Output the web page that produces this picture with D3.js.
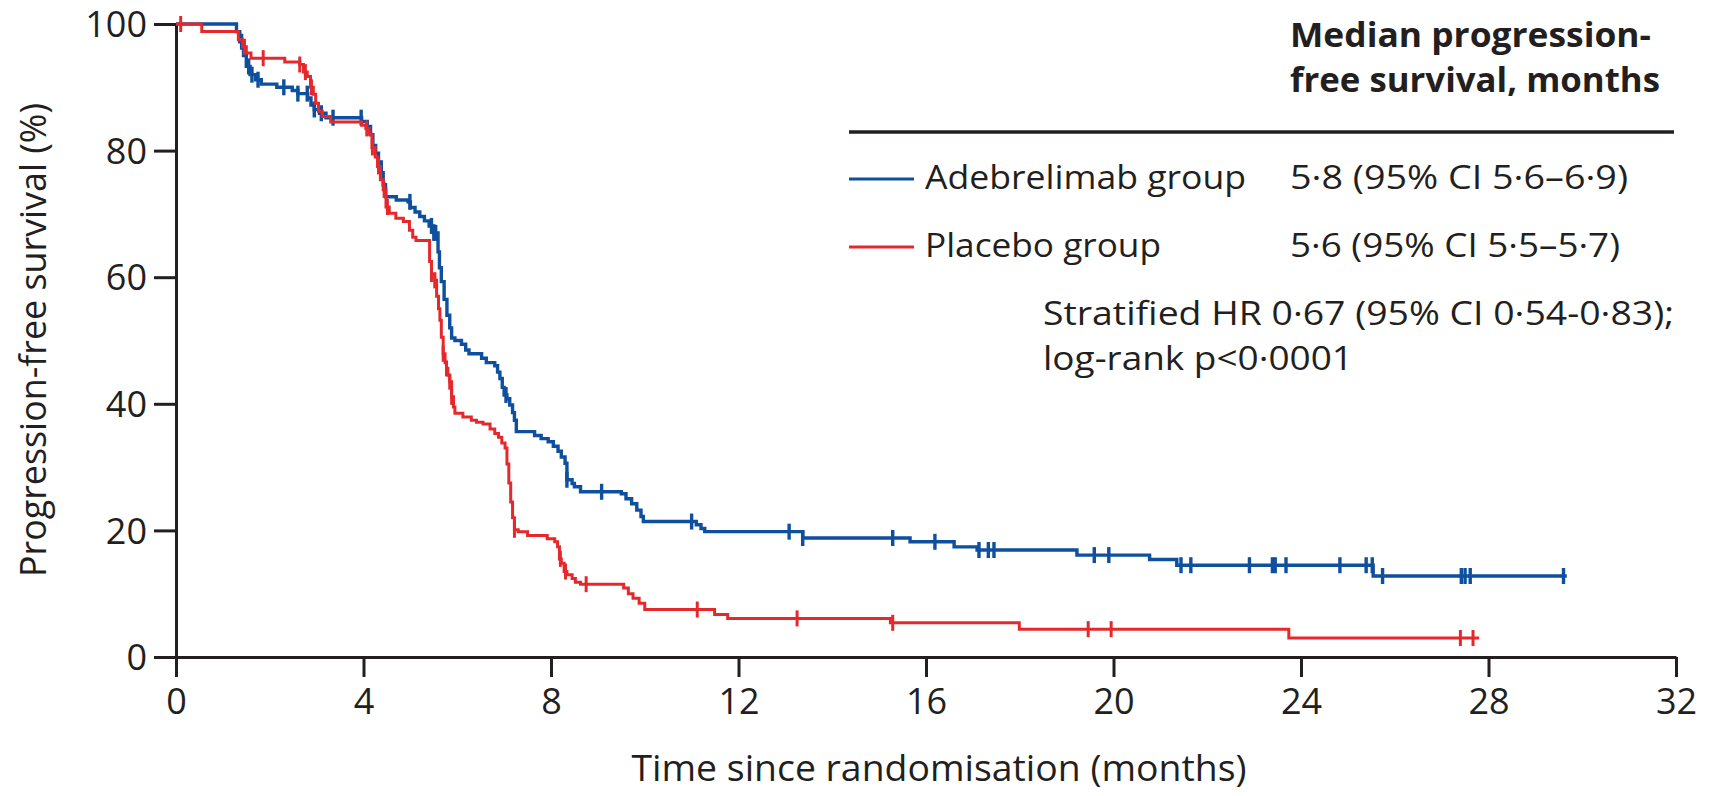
<!DOCTYPE html>
<html>
<head>
<meta charset="utf-8">
<script src="https://cdn.jsdelivr.net/npm/d3@7"></script>
<style>
  html, body { margin: 0; padding: 0; background: #fff; }
  svg text { font-family: "Open Sans", "Noto Sans", sans-serif; fill: #231f20; }
</style>
</head>
<body>
<div id="chart"></div>
<script>
// Axes
const xTicks = [0, 4, 8, 12, 16, 20, 24, 28, 32];
const yTicks = [0, 20, 40, 60, 80, 100];

// Kaplan-Meier steps: [month, survival %] (survival after the step)
const adebrelimabSteps = [
  [0, 100], [1.29, 98.8], [1.36, 97.2], [1.44, 95.0], [1.5, 93.3], [1.58, 92.0], [1.7, 91.2],
  [1.82, 90.5], [2.15, 90.0], [2.48, 89.5], [2.6, 89.0], [2.81, 88.3], [2.88, 87.2], [2.95, 86.5],
  [3.06, 85.9], [3.2, 85.2], [3.96, 84.6], [4.08, 83.8], [4.15, 82.5], [4.2, 80.8], [4.26, 79.6],
  [4.32, 78.2], [4.38, 76.5], [4.42, 74.6], [4.47, 72.7], [4.7, 72.2], [4.95, 71.9], [5.0, 71.0],
  [5.1, 70.3], [5.2, 69.6], [5.3, 68.9], [5.4, 68.1], [5.5, 67.0], [5.59, 64.0], [5.62, 61.5],
  [5.66, 59.3], [5.72, 56.5], [5.78, 54.0], [5.84, 52.0], [5.88, 50.4], [5.95, 50.0], [6.09, 49.4],
  [6.18, 48.5], [6.25, 47.9], [6.52, 47.2], [6.62, 46.5], [6.8, 46.0], [6.86, 45.0], [6.91, 44.0],
  [6.96, 42.6], [7.0, 41.4], [7.06, 40.8], [7.12, 39.8], [7.18, 38.6], [7.22, 37.4], [7.26, 35.6],
  [7.65, 35.0], [7.79, 34.5], [7.94, 34.0], [8.05, 33.3], [8.15, 32.5], [8.22, 31.6], [8.3, 30.6],
  [8.34, 28.0], [8.45, 27.4], [8.5, 26.9], [8.63, 26.1], [9.5, 25.8], [9.6, 25.0], [9.72, 24.2],
  [9.83, 23.2], [9.92, 22.2], [9.97, 21.4], [11.1, 20.9], [11.2, 20.3], [11.28, 19.8], [13.37, 18.8],
  [15.66, 18.2], [16.6, 17.4], [17.09, 16.9], [19.22, 16.1], [20.77, 15.4], [21.35, 14.5], [25.54, 12.8]
];
const adebrelimabEnd = 29.67;
const adebrelimabCensored = [
  1.4, 1.55, 1.62, 1.75, 2.3, 2.6, 2.8, 2.95, 3.1, 3.35, 3.95, 4.99, 5.45, 5.5, 5.54, 7.04,
  8.34, 9.08, 11.0, 13.08, 13.37, 15.29, 16.19, 17.13, 17.33, 17.45, 19.59, 19.9, 21.44, 21.65,
  22.9, 23.39, 23.45, 23.68, 24.83, 25.39, 25.52, 25.74, 27.42, 27.5, 27.61, 29.6
];

const placeboSteps = [
  [0, 100], [0.55, 98.8], [1.33, 97.5], [1.42, 96.4], [1.5, 95.4], [1.6, 94.6], [2.32, 94.0],
  [2.64, 93.6], [2.72, 92.4], [2.8, 91.7], [2.87, 90.0], [2.93, 88.9], [2.98, 87.5], [3.04, 86.2],
  [3.12, 85.4], [3.3, 84.5], [3.96, 84.0], [4.05, 83.5], [4.12, 82.6], [4.18, 80.5], [4.25, 79.0],
  [4.3, 77.5], [4.36, 75.4], [4.42, 73.8], [4.48, 71.1], [4.55, 70.1], [4.69, 69.3], [4.85, 68.8],
  [4.98, 67.4], [5.05, 66.3], [5.12, 65.8], [5.41, 62.5], [5.45, 60.5], [5.52, 59.5], [5.56, 57.0],
  [5.6, 55.0], [5.63, 53.2], [5.66, 50.5], [5.7, 47.9], [5.74, 46.5], [5.77, 45.6], [5.8, 44.5],
  [5.84, 43.5], [5.88, 41.1], [5.92, 39.5], [5.95, 38.5], [6.12, 37.9], [6.3, 37.4], [6.41, 37.1],
  [6.55, 36.8], [6.7, 36.0], [6.8, 35.3], [6.88, 34.7], [6.95, 33.8], [7.02, 33.0], [7.06, 30.5],
  [7.1, 27.5], [7.14, 24.5], [7.18, 22.0], [7.22, 20.1], [7.3, 19.8], [7.5, 19.2], [7.92, 18.7],
  [8.08, 18.2], [8.14, 17.4], [8.18, 15.5], [8.22, 14.8], [8.28, 13.5], [8.34, 13.0], [8.45, 12.4],
  [8.52, 11.8], [8.63, 11.5], [9.55, 10.9], [9.65, 10.0], [9.75, 9.3], [9.88, 8.5], [10.0, 7.5],
  [11.49, 6.7], [11.77, 6.1], [15.24, 5.4], [17.99, 4.4], [23.74, 3.0]
];
const placeboEnd = 27.8;
const placeboCensored = [
  0.1, 1.46, 1.86, 2.64, 2.76, 2.89, 4.07, 4.19, 4.32, 4.44, 4.51, 5.45, 5.52, 5.7, 5.77, 5.84,
  5.88, 7.22, 8.2, 8.31, 8.75, 11.12, 13.25, 15.29, 19.46, 19.95, 27.4, 27.67
];

const groupNames = ["Adebrelimab group", "Placebo group"];
const medianLabels = ["5·8 (95% CI 5·6–6·9)", "5·6 (95% CI 5·5–5·7)"];
const legendTitle = ["Median progression-", "free survival, months"];
const statLines = ["Stratified HR 0·67 (95% CI 0·54-0·83);", "log-rank p<0·0001"];
const xTitle = "Time since randomisation (months)";
const yTitle = "Progression-free survival (%)";

const blue = "#0e4f9e";
const red = "#e5282c";
const ink = "#231f20";

const W = 1714, H = 796;
const svg = d3.select("#chart").append("svg")
  .attr("width", W).attr("height", H);

const x = d3.scaleLinear().domain([0, 32]).range([176, 1676]);
const y = d3.scaleLinear().domain([0, 100]).range([657, 24]);

// axe Y
const yAxis = svg.append("g")
  .attr("transform", `translate(${x(0)},0)`)
  .call(d3.axisLeft(y).tickValues(yTicks).tickSize(22).tickSizeOuter(0));
yAxis.selectAll("text")
  .attr("x", -29).attr("dy", "0.35em")
  .style("font-size", "36px");

// axe X
const xAxis = svg.append("g")
  .attr("transform", `translate(0,${y(0)})`)
  .call(d3.axisBottom(x).tickValues(xTicks).tickSize(20).tickSizeOuter(0));
xAxis.selectAll("text")
  .attr("y", 57).attr("dy", null)
  .style("font-size", "36px");

[yAxis, xAxis].forEach(a => {
  a.select(".domain").attr("stroke", ink).attr("stroke-width", 3);
  a.selectAll(".tick line").attr("stroke", ink).attr("stroke-width", 3);
  a.selectAll("text").attr("fill", ink).style("font-family", '"Open Sans", sans-serif');
});

// axis titles
svg.append("text")
  .attr("x", 939).attr("y", 781)
  .attr("text-anchor", "middle")
  .attr("textLength", 615).attr("lengthAdjust", "spacingAndGlyphs")
  .style("font-size", "36px")
  .text(xTitle);

svg.append("text")
  .attr("transform", "translate(46,340) rotate(-90)")
  .attr("text-anchor", "middle")
  .attr("textLength", 474).attr("lengthAdjust", "spacingAndGlyphs")
  .style("font-size", "37px")
  .text(yTitle);

// curves
function survAt(steps, t) {
  let s = steps[0][1];
  steps.forEach(d => { if (d[0] <= t) s = d[1]; });
  return s;
}

const line = d3.line()
  .x(d => x(d[0]))
  .y(d => y(d[1]))
  .curve(d3.curveStepAfter);

const groups = [
  { steps: adebrelimabSteps, end: adebrelimabEnd, cens: adebrelimabCensored, color: blue, w: 3.4 },
  { steps: placeboSteps, end: placeboEnd, cens: placeboCensored, color: red, w: 3 }
];

groups.forEach(g => {
  const pts = g.steps.concat([[g.end, g.steps[g.steps.length - 1][1]]]);
  svg.append("path")
    .datum(pts)
    .attr("fill", "none")
    .attr("stroke", g.color)
    .attr("stroke-width", g.w)
    .attr("d", line);

  svg.selectAll(null)
    .data(g.cens)
    .enter()
    .append("line")
    .attr("x1", d => x(d)).attr("x2", d => x(d))
    .attr("y1", d => y(survAt(g.steps, d)) - 8)
    .attr("y2", d => y(survAt(g.steps, d)) + 8)
    .attr("stroke", g.color)
    .attr("stroke-width", g.w);
});

// legend
svg.append("text")
  .attr("x", 1290).attr("y", 47)
  .attr("textLength", 361).attr("lengthAdjust", "spacingAndGlyphs")
  .style("font-size", "34px").style("font-weight", "bold")
  .text(legendTitle[0]);
svg.append("text")
  .attr("x", 1290).attr("y", 92)
  .attr("textLength", 370).attr("lengthAdjust", "spacingAndGlyphs")
  .style("font-size", "34px").style("font-weight", "bold")
  .text(legendTitle[1]);

svg.append("line")
  .attr("x1", 849).attr("x2", 1674)
  .attr("y1", 132).attr("y2", 132)
  .attr("stroke", ink).attr("stroke-width", 3.5);

const legendRows = [
  { y: 179, color: blue, name: groupNames[0], nameW: 321, med: medianLabels[0], medW: 338 },
  { y: 247, color: red, name: groupNames[1], nameW: 236, med: medianLabels[1], medW: 330 }
];
legendRows.forEach(r => {
  svg.append("line")
    .attr("x1", 849).attr("x2", 914)
    .attr("y1", r.y).attr("y2", r.y)
    .attr("stroke", r.color).attr("stroke-width", 3);
  svg.append("text")
    .attr("x", 925).attr("y", r.y + 10)
    .attr("textLength", r.nameW).attr("lengthAdjust", "spacingAndGlyphs")
    .style("font-size", "33px")
    .text(r.name);
  svg.append("text")
    .attr("x", 1290).attr("y", r.y + 10)
    .attr("textLength", r.medW).attr("lengthAdjust", "spacingAndGlyphs")
    .style("font-size", "33px")
    .text(r.med);
});

svg.append("text")
  .attr("x", 1043).attr("y", 325)
  .attr("textLength", 631).attr("lengthAdjust", "spacingAndGlyphs")
  .style("font-size", "33px")
  .text(statLines[0]);
svg.append("text")
  .attr("x", 1043).attr("y", 370)
  .attr("textLength", 310).attr("lengthAdjust", "spacingAndGlyphs")
  .style("font-size", "33px")
  .text(statLines[1]);
</script>
</body>
</html>
